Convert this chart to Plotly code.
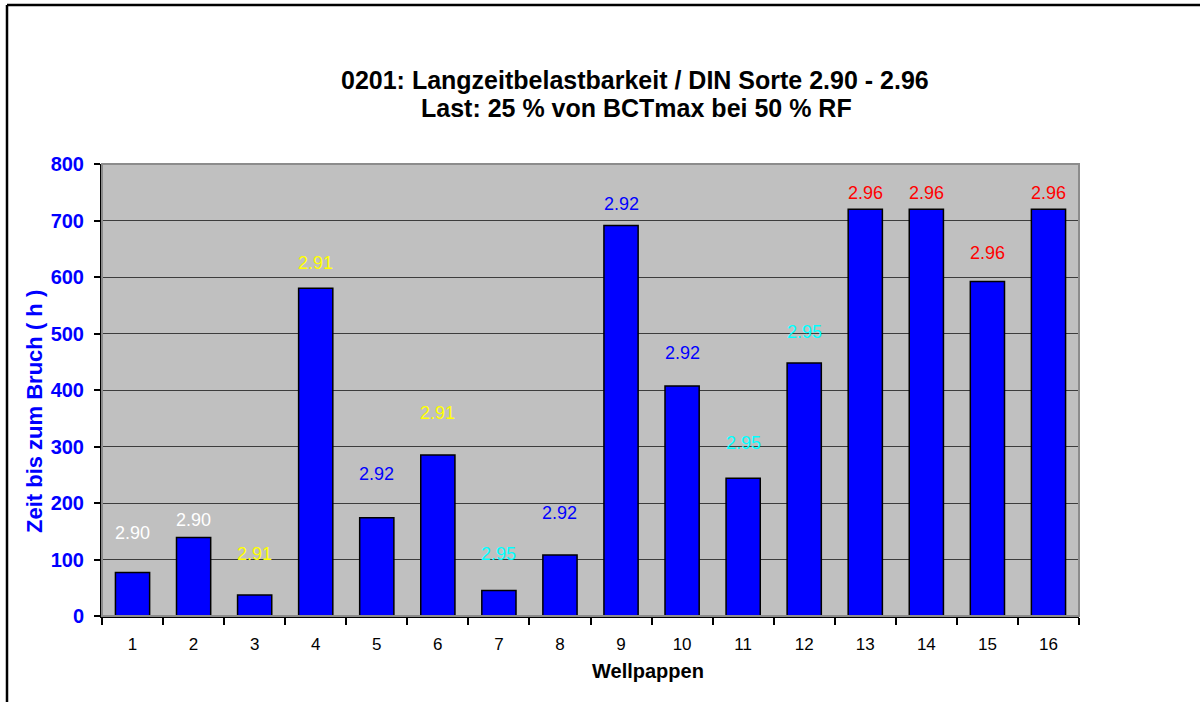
import plotly.graph_objects as go

# ---- data ----
categories = [str(i) for i in range(1, 17)]
hours = [77, 139, 37, 580, 174, 285, 45, 108, 691, 407, 244, 448, 720, 720, 592, 720]
grades = ["2.90", "2.90", "2.91", "2.91", "2.92", "2.91", "2.95", "2.92",
          "2.92", "2.92", "2.95", "2.95", "2.96", "2.96", "2.96", "2.96"]
label_y = [147, 170, 110, 625, 251, 359, 110, 182, 729, 466, 306, 502, 749, 749, 643, 749]
grade_colors = {"2.90": "#FFFFFF", "2.91": "#FFFF00", "2.92": "#0000FF",
                "2.95": "#00FFFF", "2.96": "#FF0000"}
y_ticks = [0, 100, 200, 300, 400, 500, 600, 700, 800]

title_1 = "0201: Langzeitbelastbarkeit / DIN Sorte 2.90 - 2.96"
title_2 = "Last: 25 % von BCTmax bei 50 % RF"
x_title = "Wellpappen"
y_title = "Zeit bis zum Bruch ( h )"

# ---- layout geometry (page pixels; body margin removed below) ----
W, H = 1200, 702
L, T = 102, 164
PW, PH = 977, 452
R, B = W - L - PW, H - T - PH


def px(x):
    """page x pixel -> paper coordinate"""
    return (x - L) / PW


def py(y):
    """page y pixel -> paper coordinate"""
    return (T + PH - y) / PH


FONT = "Liberation Sans, Arial, sans-serif"

fig = go.Figure()
fig.add_trace(go.Bar(
    x=categories, y=hours,
    marker=dict(color="#0000FF", line=dict(color="#000000", width=1.5)),
    width=0.56, hoverinfo="x+y",
))

annotations = []
for i, (g, ly) in enumerate(zip(grades, label_y)):
    annotations.append(dict(
        x=i, y=ly, xref="x", yref="y", text=g, showarrow=False,
        font=dict(family=FONT, size=18, color=grade_colors[g]),
        xanchor="center", yanchor="middle",
    ))

annotations += [
    dict(x=px(635), y=py(80), xref="paper", yref="paper", text="<b>%s</b>" % title_1,
         showarrow=False, font=dict(family=FONT, size=25, color="#000000"),
         xanchor="center", yanchor="middle"),
    dict(x=px(636), y=py(108), xref="paper", yref="paper", text="<b>%s</b>" % title_2,
         showarrow=False, font=dict(family=FONT, size=25, color="#000000"),
         xanchor="center", yanchor="middle"),
    dict(x=px(648), y=py(671), xref="paper", yref="paper", text="<b>%s</b>" % x_title,
         showarrow=False, font=dict(family=FONT, size=20, color="#000000"),
         xanchor="center", yanchor="middle"),
    dict(x=px(34), y=py(412), xref="paper", yref="paper", text="<b>%s</b>" % y_title,
         showarrow=False, textangle=-90, font=dict(family=FONT, size=22, color="#0000FF"),
         xanchor="center", yanchor="middle"),
]

shapes = [
    # plot area border (top / right, grey)
    dict(type="rect", xref="paper", yref="paper", x0=0, y0=0, x1=1, y1=1,
         line=dict(color="#8C8C8C", width=2), layer="above"),
    # outer frame (left and top edges)
    dict(type="line", xref="paper", yref="paper", x0=px(7), x1=px(7), y0=py(5), y1=py(H + 2),
         line=dict(color="#000000", width=2.5)),
    dict(type="line", xref="paper", yref="paper", x0=px(7), x1=px(W + 2), y0=py(5), y1=py(5),
         line=dict(color="#000000", width=2.5)),
]

fig.update_layout(
    width=W, height=H,
    margin=dict(l=L, r=R, t=T, b=B, pad=0),
    paper_bgcolor="#FFFFFF",
    plot_bgcolor="#C0C0C0",
    showlegend=False,
    annotations=annotations,
    shapes=shapes,
    bargap=0.44,
    font=dict(family=FONT),
)

fig.update_xaxes(
    type="category", categoryorder="array", categoryarray=categories,
    showline=True, linecolor="#000000", linewidth=2,
    ticks="outside", tickson="boundaries", ticklen=7, tickwidth=1.5, tickcolor="#000000",
    tickfont=dict(family=FONT, size=17, color="#000000"),
    ticklabelstandoff=12,
    showgrid=False, zeroline=False,
)
fig.update_yaxes(
    range=[0, 800], tickvals=y_ticks,
    showline=True, linecolor="#000000", linewidth=2,
    ticks="outside", ticklen=6, tickwidth=1.5, tickcolor="#000000",
    tickfont=dict(family=FONT, size=20, color="#0000FF", weight="bold"),
    ticklabelstandoff=6,
    showgrid=True, gridcolor="#3C3C3C", gridwidth=1,
    zeroline=False,
)

page_style = ("document.body.style.margin='0';"
              "document.documentElement.style.overflow='hidden';"
              "document.body.style.overflow='hidden';")

fig.write_html("out.html", config={"displayModeBar": False}, post_script=page_style)
